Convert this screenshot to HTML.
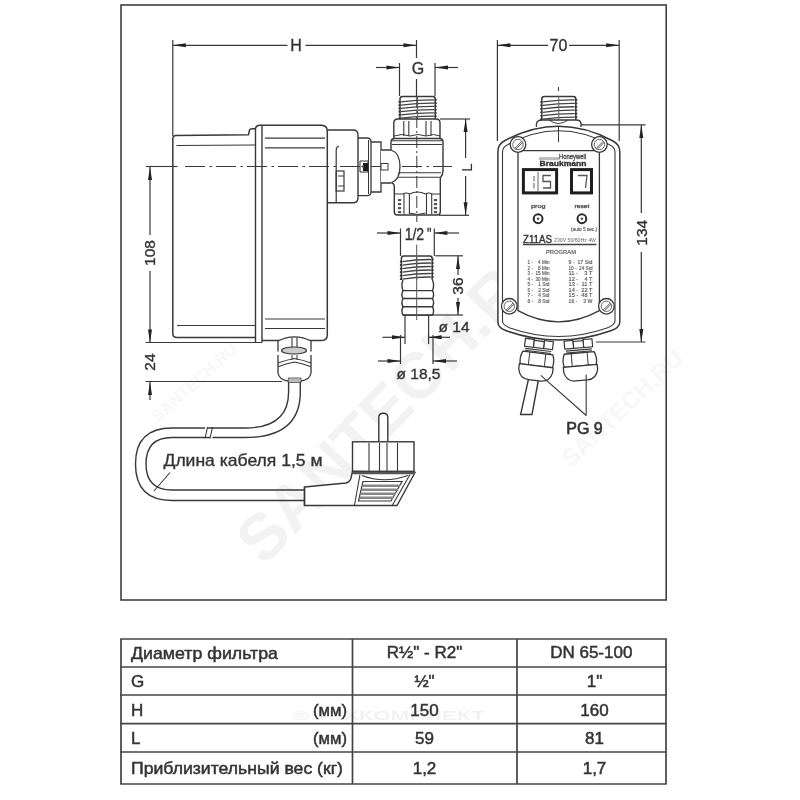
<!DOCTYPE html>
<html><head><meta charset="utf-8"><style>
html,body{margin:0;padding:0;background:#fff;}
svg{display:block;font-family:"Liberation Sans",sans-serif;will-change:transform;}
</style></head><body>
<svg width="800" height="800" viewBox="0 0 800 800">
<rect width="800" height="800" fill="#fff"/>
<g>
<text x="0" y="0" font-size="65" font-weight="bold" fill="#f2f2f2" transform="translate(264,567) rotate(-46)">SANTECH.RU</text>
<text x="0" y="0" font-size="24" font-weight="bold" fill="#f7f7f7" transform="translate(571,468) rotate(-43.5)">SANTECH.RU</text>
<text x="0" y="0" font-size="16.5" font-weight="bold" fill="#f7f7f7" transform="translate(158,423) rotate(-42)">SANTECH.RU</text>
<text x="292" y="719.5" font-size="13" font-weight="bold" fill="#f2f2f2" textLength="193" lengthAdjust="spacingAndGlyphs">© ТЕХКОМПЛЕКТ</text>
<rect x="121" y="5" width="545.2" height="595" fill="none" stroke="#404040" stroke-width="1.6"/>
<line x1="172.8" y1="40" x2="172.8" y2="136" stroke="#383838" stroke-width="1.2" />
<line x1="172.8" y1="45.3" x2="287.5" y2="45.3" stroke="#383838" stroke-width="1.2" />
<line x1="305.5" y1="45.3" x2="416.5" y2="45.3" stroke="#383838" stroke-width="1.2" />
<path d="M172.8 45.3L185.8 43.3L185.8 47.3Z" fill="#222"/>
<path d="M416.5 45.3L403.5 43.3L403.5 47.3Z" fill="#222"/>
<text x="296" y="50.6" font-size="16" text-anchor="middle" fill="#333" stroke="#333" stroke-width="0.35" >H</text>
<line x1="416.5" y1="40" x2="416.5" y2="58" stroke="#383838" stroke-width="1.2" />
<line x1="416.5" y1="79" x2="416.5" y2="96" stroke="#383838" stroke-width="1.2" />
<line x1="399.5" y1="63" x2="399.5" y2="96" stroke="#383838" stroke-width="1.2" />
<line x1="435" y1="63" x2="435" y2="96" stroke="#383838" stroke-width="1.2" />
<line x1="376" y1="67.5" x2="399.5" y2="67.5" stroke="#383838" stroke-width="1.2" />
<path d="M399.5 67.5L386.5 65.5L386.5 69.5Z" fill="#222"/>
<line x1="435" y1="67.5" x2="458" y2="67.5" stroke="#383838" stroke-width="1.2" />
<path d="M435 67.5L448 65.5L448 69.5Z" fill="#222"/>
<text x="418" y="74" font-size="16" text-anchor="middle" fill="#333" stroke="#333" stroke-width="0.35" >G</text>
<line x1="146" y1="166.5" x2="177.5" y2="166.5" stroke="#383838" stroke-width="1.1" />
<line x1="185" y1="166.5" x2="452" y2="166.5" stroke="#383838" stroke-width="1.1" stroke-dasharray="20 4.5 2.5 4"/>
<line x1="150" y1="167" x2="150" y2="235" stroke="#383838" stroke-width="1.2" />
<line x1="150" y1="271" x2="150" y2="342.5" stroke="#383838" stroke-width="1.2" />
<path d="M150 167L148.0 180L152.0 180Z" fill="#222"/>
<path d="M150 342.5L148.0 329.5L152.0 329.5Z" fill="#222"/>
<text x="0" y="0" font-size="15.5" text-anchor="middle" fill="#333" stroke="#333" stroke-width="0.35" transform="translate(154.8,253) rotate(-90)">108</text>
<line x1="145.5" y1="342.5" x2="262" y2="342.5" stroke="#383838" stroke-width="1.2" />
<text x="0" y="0" font-size="15.5" text-anchor="middle" fill="#333" stroke="#333" stroke-width="0.35" transform="translate(154.8,362) rotate(-90)">24</text>
<line x1="145.5" y1="381.5" x2="282" y2="381.5" stroke="#383838" stroke-width="1.2" />
<line x1="150" y1="382" x2="150" y2="400" stroke="#383838" stroke-width="1.2" />
<path d="M150 382L148.0 395L152.0 395Z" fill="#222"/>
<path d="M172.8 139Q172.8 135.5 176 135.5L248.5 134.8L249.5 130Q250 128.8 252 128.8L255.3 128.8Q256 125.5 259 125.2L262 125.2" stroke="#383838" stroke-width="1.5" fill="none" />
<path d="M172.8 139L172.8 333.5Q172.8 337.5 177 337.5L256 337.5" stroke="#383838" stroke-width="1.5" fill="none" />
<line x1="176.5" y1="145.5" x2="255" y2="145" stroke="#383838" stroke-width="1.2" />
<line x1="177" y1="325.5" x2="255" y2="325.5" stroke="#383838" stroke-width="1.2" />
<line x1="255.5" y1="128.8" x2="255.5" y2="342.5" stroke="#383838" stroke-width="1.4" />
<line x1="262" y1="125.2" x2="262" y2="342.5" stroke="#383838" stroke-width="1.4" />
<path d="M262 125.2L321.5 125.2Q327.3 125.5 327.3 131L327.3 335Q327.3 340.5 321.5 340.5L262 340.5" stroke="#383838" stroke-width="1.5" fill="none" />
<line x1="265" y1="138.2" x2="325" y2="138.2" stroke="#383838" stroke-width="1.2" />
<line x1="265" y1="147.8" x2="325" y2="147.8" stroke="#383838" stroke-width="1.2" />
<line x1="265" y1="319" x2="325" y2="319" stroke="#383838" stroke-width="1.2" />
<line x1="265" y1="328.5" x2="325" y2="328.5" stroke="#383838" stroke-width="1.2" />
<path d="M327.3 130L353 130Q358 130 358 135L358 198Q358 202.8 353 202.8L327.3 202.8" stroke="#383838" stroke-width="1.4" fill="none" />
<path d="M336.2 202.8L336.2 150Q336.2 147 339 146" stroke="#383838" stroke-width="1.2" fill="none" />
<rect x="336.2" y="171" width="7.8" height="20" fill="none" stroke="#383838" stroke-width="1.2"/>
<line x1="338" y1="176" x2="344" y2="176" stroke="#383838" stroke-width="1" />
<line x1="338" y1="186" x2="344" y2="186" stroke="#383838" stroke-width="1" />
<path d="M358 138L367 138Q371 138 371 142L371 192Q371 195.6 367 195.6L358 195.6" stroke="#383838" stroke-width="1.3" fill="none" />
<line x1="368.5" y1="140" x2="368.5" y2="194" stroke="#383838" stroke-width="1.0" />
<path d="M371 142L381 142L381 192L371 192" stroke="#383838" stroke-width="1.3" fill="none" />
<path d="M360 161L368 161L368 172L360 172Z" fill="#fff" stroke="#333" stroke-width="1"/><path d="M363 163L368 163L368 171L363 171Z" fill="#1a1a1a"/><path d="M361 166.5L364 164.5L364 168.5Z" fill="#444"/>
<path d="M381 150L391 150Q400 153 400 166.5Q400 180 391 183L381 183" stroke="#383838" stroke-width="1.3" fill="#fff" />
<rect x="381" y="163.5" width="7" height="6.5" fill="#fff" stroke="#383838" stroke-width="1"/>
<path d="M400 119L400 98.9Q400 96.4 402.5 96.4L432.7 96.4Q435.2 96.4 435.2 98.9L435.2 119" stroke="#383838" stroke-width="1.5" fill="none" />
<path d="M401 101.85000000000001Q417.6 99.72666666666667 434.2 99.89" stroke="#444" stroke-width="1.3" fill="none" />
<path d="M398.5 101.85000000000001L400.5 101.85000000000001M434.7 99.89L436.7 99.89" stroke="#333" stroke-width="1.6" fill="none" />
<path d="M401 105.11666666666667Q417.6 102.99333333333334 434.2 103.15666666666667" stroke="#444" stroke-width="1.3" fill="none" />
<path d="M398.5 105.11666666666667L400.5 105.11666666666667M434.7 103.15666666666667L436.7 103.15666666666667" stroke="#333" stroke-width="1.6" fill="none" />
<path d="M401 108.38333333333334Q417.6 106.26 434.2 106.42333333333333" stroke="#444" stroke-width="1.3" fill="none" />
<path d="M398.5 108.38333333333334L400.5 108.38333333333334M434.7 106.42333333333333L436.7 106.42333333333333" stroke="#333" stroke-width="1.6" fill="none" />
<path d="M401 111.65Q417.6 109.52666666666667 434.2 109.69" stroke="#444" stroke-width="1.3" fill="none" />
<path d="M398.5 111.65L400.5 111.65M434.7 109.69L436.7 109.69" stroke="#333" stroke-width="1.6" fill="none" />
<path d="M401 114.91666666666667Q417.6 112.79333333333334 434.2 112.95666666666666" stroke="#444" stroke-width="1.3" fill="none" />
<path d="M398.5 114.91666666666667L400.5 114.91666666666667M434.7 112.95666666666666L436.7 112.95666666666666" stroke="#333" stroke-width="1.6" fill="none" />
<path d="M401 118.18333333333334Q417.6 116.06 434.2 116.22333333333333" stroke="#444" stroke-width="1.3" fill="none" />
<path d="M398.5 118.18333333333334L400.5 118.18333333333334M434.7 116.22333333333333L436.7 116.22333333333333" stroke="#333" stroke-width="1.6" fill="none" />
<line x1="417.6" y1="96.4" x2="417.6" y2="119" stroke="#666" stroke-width="1.0" />
<path d="M393.8 138.8L393.8 123Q393.8 119 398 119L436 119Q440 119 440 123L440 138.8" stroke="#383838" stroke-width="1.4" fill="none" />
<line x1="403.8" y1="121" x2="403.8" y2="136" stroke="#383838" stroke-width="1.1" />
<line x1="408.8" y1="121" x2="408.8" y2="136" stroke="#383838" stroke-width="1.1" />
<line x1="426" y1="121" x2="426" y2="136" stroke="#383838" stroke-width="1.1" />
<line x1="431" y1="121" x2="431" y2="136" stroke="#383838" stroke-width="1.1" />
<path d="M394 136Q402 133 410 136Q418 133 426 136Q434 133 440 136" stroke="#383838" stroke-width="1.0" fill="none" />
<path d="M391 150L391 142Q391 138.5 395 138.5L439 138.5Q443 138.5 443 142L443 171Q443 175 440.3 178L440.3 212Q440.3 215 437 215L397.5 215Q394.3 215 394.3 212L394.3 186Q394.3 184 392 183" stroke="#383838" stroke-width="1.4" fill="none" />
<line x1="392" y1="140.8" x2="442" y2="140.8" stroke="#383838" stroke-width="1.1" />
<line x1="392" y1="144.5" x2="442" y2="144.5" stroke="#383838" stroke-width="1.1" />
<line x1="398.4" y1="172.7" x2="441" y2="172.7" stroke="#383838" stroke-width="1.1" />
<line x1="398.4" y1="177.2" x2="440.3" y2="177.2" stroke="#383838" stroke-width="1.1" />
<path d="M394.3 194L403 194Q406 192 409.5 194M425.5 194Q428.5 192 432 194L440.3 194" stroke="#383838" stroke-width="1.2" fill="none" />
<path d="M409.5 194Q417.5 190 425.5 194" stroke="#383838" stroke-width="1.2" fill="none" />
<path d="M409.5 213Q417.5 216 425.5 213" stroke="#383838" stroke-width="1.0" fill="none" />
<line x1="404" y1="194" x2="404" y2="214" stroke="#383838" stroke-width="1.1" />
<line x1="409.4" y1="194" x2="409.4" y2="214" stroke="#383838" stroke-width="1.1" />
<line x1="426.5" y1="194" x2="426.5" y2="214" stroke="#383838" stroke-width="1.1" />
<line x1="431.7" y1="194" x2="431.7" y2="214" stroke="#383838" stroke-width="1.1" />
<rect x="397.9" y="199" width="3.2" height="2.2" fill="#555"/>
<rect x="397.9" y="203" width="3.2" height="2.2" fill="#555"/>
<rect x="397.9" y="207" width="3.2" height="2.2" fill="#555"/>
<rect x="397.9" y="211" width="3.2" height="2.2" fill="#555"/>
<rect x="433.9" y="199" width="3.2" height="2.2" fill="#555"/>
<rect x="433.9" y="203" width="3.2" height="2.2" fill="#555"/>
<rect x="433.9" y="207" width="3.2" height="2.2" fill="#555"/>
<rect x="433.9" y="211" width="3.2" height="2.2" fill="#555"/>
<line x1="416.8" y1="96" x2="416.8" y2="222" stroke="#383838" stroke-width="1.0" stroke-dasharray="12 3 2 3"/>
<line x1="440" y1="119" x2="470" y2="119" stroke="#383838" stroke-width="1.2" />
<line x1="439" y1="215.3" x2="469" y2="215.3" stroke="#383838" stroke-width="1.2" />
<line x1="465.6" y1="119" x2="465.6" y2="158" stroke="#383838" stroke-width="1.2" />
<line x1="465.6" y1="176" x2="465.6" y2="215.3" stroke="#383838" stroke-width="1.2" />
<path d="M465.6 119L463.6 132L467.6 132Z" fill="#222"/>
<path d="M465.6 215.3L463.6 202.3L467.6 202.3Z" fill="#222"/>
<text x="0" y="0" font-size="15" text-anchor="middle" fill="#333" stroke="#333" stroke-width="0.1" transform="translate(471.5,167.5) rotate(-90)">L</text>
<line x1="400.5" y1="228.5" x2="400.5" y2="256" stroke="#383838" stroke-width="1.2" />
<line x1="434.3" y1="228.5" x2="434.3" y2="256" stroke="#383838" stroke-width="1.2" />
<line x1="377" y1="233" x2="400.5" y2="233" stroke="#383838" stroke-width="1.2" />
<path d="M400.5 233L387.5 231.0L387.5 235.0Z" fill="#222"/>
<line x1="434.3" y1="233" x2="459" y2="233" stroke="#383838" stroke-width="1.2" />
<path d="M434.3 233L447.3 231.0L447.3 235.0Z" fill="#222"/>
<text x="414.4" y="239.6" font-size="17" text-anchor="middle" fill="#333" stroke="#333" stroke-width="0.35" textLength="19.5" lengthAdjust="spacingAndGlyphs" >1/2</text>
<text x="429.2" y="239.6" font-size="17" text-anchor="middle" fill="#333" stroke="#333" stroke-width="0.35" textLength="4.5" lengthAdjust="spacingAndGlyphs" >"</text>
<path d="M401.4 280L401.4 258.5Q401.4 256 403.9 256L429.7 256Q432.2 256 432.2 258.5L432.2 280" stroke="#383838" stroke-width="1.5" fill="none" />
<path d="M402.4 261.625Q416.79999999999995 259.35 431.2 259.525" stroke="#444" stroke-width="1.3" fill="none" />
<path d="M399.9 261.625L401.9 261.625M431.7 259.525L433.7 259.525" stroke="#333" stroke-width="1.6" fill="none" />
<path d="M402.4 265.125Q416.79999999999995 262.85 431.2 263.025" stroke="#444" stroke-width="1.3" fill="none" />
<path d="M399.9 265.125L401.9 265.125M431.7 263.025L433.7 263.025" stroke="#333" stroke-width="1.6" fill="none" />
<path d="M402.4 268.625Q416.79999999999995 266.35 431.2 266.525" stroke="#444" stroke-width="1.3" fill="none" />
<path d="M399.9 268.625L401.9 268.625M431.7 266.525L433.7 266.525" stroke="#333" stroke-width="1.6" fill="none" />
<path d="M402.4 272.125Q416.79999999999995 269.85 431.2 270.025" stroke="#444" stroke-width="1.3" fill="none" />
<path d="M399.9 272.125L401.9 272.125M431.7 270.025L433.7 270.025" stroke="#333" stroke-width="1.6" fill="none" />
<path d="M402.4 275.625Q416.79999999999995 273.35 431.2 273.525" stroke="#444" stroke-width="1.3" fill="none" />
<path d="M399.9 275.625L401.9 275.625M431.7 273.525L433.7 273.525" stroke="#333" stroke-width="1.6" fill="none" />
<path d="M402.4 279.125Q416.79999999999995 276.85 431.2 277.025" stroke="#444" stroke-width="1.3" fill="none" />
<path d="M399.9 279.125L401.9 279.125M431.7 277.025L433.7 277.025" stroke="#333" stroke-width="1.6" fill="none" />
<line x1="416.79999999999995" y1="256" x2="416.79999999999995" y2="280" stroke="#666" stroke-width="1.0" />
<path d="M403 280Q400.8 285.3 403 290.6L432.5 290.6Q434.7 285.3 432.5 280" stroke="#383838" stroke-width="1.4" fill="none" />
<path d="M403 290.6Q400.8 294.55 403 298.5L432.5 298.5Q434.7 294.55 432.5 290.6" stroke="#383838" stroke-width="1.4" fill="none" />
<path d="M403 298.5Q400.8 302.65 403 306.8L432.5 306.8Q434.7 302.65 432.5 298.5" stroke="#383838" stroke-width="1.4" fill="none" />
<path d="M403 306.8Q400.8 310.95000000000005 403 315.1L432.5 315.1Q434.7 310.95000000000005 432.5 306.8" stroke="#383838" stroke-width="1.4" fill="none" />
<line x1="403" y1="315.1" x2="432.5" y2="315.1" stroke="#383838" stroke-width="1.4" />
<line x1="416.7" y1="244.5" x2="416.7" y2="320" stroke="#555" stroke-width="1.0" />
<line x1="435.4" y1="255.8" x2="463" y2="255.8" stroke="#383838" stroke-width="1.2" />
<line x1="433" y1="315" x2="463" y2="315" stroke="#383838" stroke-width="1.2" />
<line x1="458" y1="256" x2="458" y2="275" stroke="#383838" stroke-width="1.2" />
<line x1="458" y1="298" x2="458" y2="315" stroke="#383838" stroke-width="1.2" />
<path d="M458 256L456.0 269L460.0 269Z" fill="#222"/>
<path d="M458 315L456.0 302L460.0 302Z" fill="#222"/>
<text x="0" y="0" font-size="15.5" text-anchor="middle" fill="#333" stroke="#333" stroke-width="0.35" transform="translate(462.8,286) rotate(-90)">36</text>
<line x1="405" y1="315" x2="405" y2="344" stroke="#383838" stroke-width="1.2" />
<line x1="428.6" y1="315" x2="428.6" y2="344" stroke="#383838" stroke-width="1.2" />
<line x1="382.5" y1="337.3" x2="405" y2="337.3" stroke="#383838" stroke-width="1.2" />
<path d="M405 337.3L392 335.3L392 339.3Z" fill="#222"/>
<line x1="428.6" y1="337.3" x2="450" y2="337.3" stroke="#383838" stroke-width="1.2" />
<path d="M428.6 337.3L441.6 335.3L441.6 339.3Z" fill="#222"/>
<text x="454" y="331.5" font-size="15.5" text-anchor="middle" fill="#333" stroke="#333" stroke-width="0.35" >ø 14</text>
<line x1="400.5" y1="335" x2="400.5" y2="364" stroke="#383838" stroke-width="1.2" />
<line x1="433" y1="335" x2="433" y2="364" stroke="#383838" stroke-width="1.2" />
<line x1="378" y1="361" x2="400.5" y2="361" stroke="#383838" stroke-width="1.2" />
<path d="M400.5 361L387.5 359.0L387.5 363.0Z" fill="#222"/>
<line x1="433" y1="361" x2="457" y2="361" stroke="#383838" stroke-width="1.2" />
<path d="M433 361L446 359.0L446 363.0Z" fill="#222"/>
<text x="418.5" y="379" font-size="15.5" text-anchor="middle" fill="#333" stroke="#333" stroke-width="0.35" >ø 18,5</text>
<path d="M278 351.4L278 341Q286 336.8 294.5 336.8Q303 336.8 311 341L311 351.4" stroke="#383838" stroke-width="1.3" fill="#fff" />
<line x1="292" y1="337.5" x2="292" y2="348" stroke="#383838" stroke-width="1.1" />
<line x1="297" y1="337.5" x2="297" y2="348" stroke="#383838" stroke-width="1.1" />
<ellipse cx="294" cy="350.5" rx="12.5" ry="3.5" fill="#ccc" stroke="#383838" stroke-width="1.2"/>
<path d="M278 366.7L278 355M311 355L311 366.7" stroke="#383838" stroke-width="1.3" fill="none" />
<path d="M278 363Q286 360 294.5 358.5Q303 360 311 363" stroke="#383838" stroke-width="1.1" fill="none" />
<path d="M278 366.7Q286 363.5 294.5 362Q303 363.5 311 366.7" stroke="#383838" stroke-width="1.1" fill="none" />
<line x1="292" y1="355" x2="292" y2="360" stroke="#383838" stroke-width="1.0" />
<line x1="297" y1="355" x2="297" y2="360" stroke="#383838" stroke-width="1.0" />
<path d="M278 366.7L278 373Q279 379.5 288 381L301 381Q310 379.5 311 373L311 366.7" stroke="#383838" stroke-width="1.3" fill="none" />
<rect x="288.3" y="378" width="12.7" height="4.5" fill="#bbb" stroke="#555" stroke-width="0.8"/>
<path d="M288.6 382L288.6 392Q288.6 428 245 428L207.5 428" stroke="#383838" stroke-width="1.4" fill="none" />
<path d="M300.3 382L300.3 392Q300.3 437.5 245 437.5L212.5 437.5" stroke="#383838" stroke-width="1.4" fill="none" />
<path d="M205 428L172 428Q135.5 428 135.5 464Q135.5 500.5 172 500.5L305 500.5" stroke="#383838" stroke-width="1.4" fill="none" />
<path d="M210 437.5L172 437.5Q146 437.5 146 464Q146 490 172 490L305 490" stroke="#383838" stroke-width="1.4" fill="none" />
<line x1="207.5" y1="427" x2="205" y2="438.5" stroke="#383838" stroke-width="1.1" />
<line x1="212.5" y1="427" x2="210" y2="438.5" stroke="#383838" stroke-width="1.1" />
<text x="163.5" y="466" font-size="17" text-anchor="start" fill="#333" stroke="#333" stroke-width="0.35" textLength="159" lengthAdjust="spacingAndGlyphs" >Длина кабеля 1,5 м</text>
<line x1="170" y1="472.5" x2="154" y2="491" stroke="#383838" stroke-width="1.1" />
<path d="M378.8 441.8L378.8 417.5Q378.8 413.2 383.3 413.2Q387.8 413.2 387.8 417.5L387.8 441.8" stroke="#383838" stroke-width="1.4" fill="#fff" />
<rect x="352.5" y="441.8" width="61.5" height="29.5" fill="#fff" stroke="#383838" stroke-width="1.4"/>
<line x1="369" y1="443" x2="369" y2="471" stroke="#383838" stroke-width="1.1" />
<line x1="379.5" y1="443" x2="379.5" y2="471" stroke="#383838" stroke-width="1.1" />
<line x1="387" y1="443" x2="387" y2="471" stroke="#383838" stroke-width="1.1" />
<line x1="397.5" y1="443" x2="397.5" y2="471" stroke="#383838" stroke-width="1.1" />
<path d="M304.5 487L346 483Q350 482 351 478L352.5 471.5L415 472.5L397 505.5L304.5 505.5Z" stroke="#383838" stroke-width="1.4" fill="#fff" />
<line x1="352.5" y1="473" x2="415" y2="473" stroke="#555" stroke-width="2.6" />
<line x1="360" y1="474.5" x2="354.5" y2="505" stroke="#383838" stroke-width="1.1" />
<line x1="410" y1="474.5" x2="392.5" y2="505" stroke="#383838" stroke-width="1.1" />
<path d="M362 475.5Q384 484 408 475.5" stroke="#383838" stroke-width="1.1" fill="none" />
<path d="M363 481.5L402 481.5L391 501L358.5 501Z" stroke="#383838" stroke-width="1.2" fill="none" />
<path d="M362.5 484.5L400.5 484.5L399.5 487.1L362.0 487.1Z" stroke="#383838" stroke-width="0" fill="#888" />
<path d="M361.6 488.5L398.3 488.5L397.3 491.1L361.1 491.1Z" stroke="#383838" stroke-width="0" fill="#888" />
<path d="M360.7 492.5L396.1 492.5L395.1 495.1L360.2 495.1Z" stroke="#383838" stroke-width="0" fill="#888" />
<path d="M359.8 496.5L393.9 496.5L392.9 499.1L359.3 499.1Z" stroke="#383838" stroke-width="0" fill="#888" />
<line x1="304.5" y1="487" x2="304.5" y2="505.5" stroke="#383838" stroke-width="1.4" />
<line x1="497.4" y1="40" x2="497.4" y2="141" stroke="#383838" stroke-width="1.2" />
<line x1="619.2" y1="40" x2="619.2" y2="141" stroke="#383838" stroke-width="1.2" />
<line x1="497.4" y1="45.3" x2="548" y2="45.3" stroke="#383838" stroke-width="1.2" />
<line x1="569" y1="45.3" x2="619.2" y2="45.3" stroke="#383838" stroke-width="1.2" />
<path d="M497.4 45.3L510.4 43.3L510.4 47.3Z" fill="#222"/>
<path d="M619.2 45.3L606.2 43.3L606.2 47.3Z" fill="#222"/>
<text x="558.5" y="51.2" font-size="16" text-anchor="middle" fill="#333" stroke="#333" stroke-width="0.35" >70</text>
<path d="M541.8 120L541.8 98.9Q541.8 96.4 544.3 96.4L573.3 96.4Q575.8 96.4 575.8 98.9L575.8 120" stroke="#383838" stroke-width="1.5" fill="none" />
<path d="M542.8 101.97500000000001Q558.8 99.74333333333334 574.8 99.915" stroke="#444" stroke-width="1.3" fill="none" />
<path d="M540.3 101.97500000000001L542.3 101.97500000000001M575.3 99.915L577.3 99.915" stroke="#333" stroke-width="1.6" fill="none" />
<path d="M542.8 105.40833333333335Q558.8 103.17666666666668 574.8 103.34833333333334" stroke="#444" stroke-width="1.3" fill="none" />
<path d="M540.3 105.40833333333335L542.3 105.40833333333335M575.3 103.34833333333334L577.3 103.34833333333334" stroke="#333" stroke-width="1.6" fill="none" />
<path d="M542.8 108.84166666666667Q558.8 106.61 574.8 106.78166666666667" stroke="#444" stroke-width="1.3" fill="none" />
<path d="M540.3 108.84166666666667L542.3 108.84166666666667M575.3 106.78166666666667L577.3 106.78166666666667" stroke="#333" stroke-width="1.6" fill="none" />
<path d="M542.8 112.275Q558.8 110.04333333333334 574.8 110.215" stroke="#444" stroke-width="1.3" fill="none" />
<path d="M540.3 112.275L542.3 112.275M575.3 110.215L577.3 110.215" stroke="#333" stroke-width="1.6" fill="none" />
<path d="M542.8 115.70833333333334Q558.8 113.47666666666667 574.8 113.64833333333334" stroke="#444" stroke-width="1.3" fill="none" />
<path d="M540.3 115.70833333333334L542.3 115.70833333333334M575.3 113.64833333333334L577.3 113.64833333333334" stroke="#333" stroke-width="1.6" fill="none" />
<path d="M542.8 119.14166666666667Q558.8 116.91 574.8 117.08166666666666" stroke="#444" stroke-width="1.3" fill="none" />
<path d="M540.3 119.14166666666667L542.3 119.14166666666667M575.3 117.08166666666666L577.3 117.08166666666666" stroke="#333" stroke-width="1.6" fill="none" />
<line x1="558.8" y1="96.4" x2="558.8" y2="120" stroke="#666" stroke-width="1.0" />
<line x1="558.5" y1="87" x2="558.5" y2="91" stroke="#383838" stroke-width="1.0" />
<path d="M536.4 127L536.4 124Q537 120 542 120L576 120Q581 120 581 124L581 127" stroke="#383838" stroke-width="1.3" fill="none" />
<path d="M549 120Q558.5 127 568 120" stroke="#383838" stroke-width="1.0" fill="none" />
<path d="M497.9 322L497.9 152Q497.9 144 505 140.5Q558.5 112 612 140.5Q619.8 144 619.8 152L619.8 322Q619.8 328 610 331Q558.5 349 507 331Q497.9 328 497.9 322Z" stroke="#383838" stroke-width="1.5" fill="#fff" />
<path d="M502.5 321L502.5 152Q502.5 147 508 144.5Q558.5 117 609 144.5Q615 147 615 152L615 321Q615 325 607 328Q558.5 345 510 328Q502.5 325 502.5 321Z" stroke="#383838" stroke-width="1.1" fill="none" />
<line x1="558.5" y1="126" x2="558.5" y2="142" stroke="#383838" stroke-width="1.0" />
<path d="M518 150.6L599.4 150.6L599.4 310.6Q558.5 333 518 310.6Z" stroke="#383838" stroke-width="1.3" fill="none" />
<circle cx="518" cy="144.5" r="7.8" fill="#fff" stroke="#383838" stroke-width="1.3"/>
<circle cx="518" cy="144.5" r="5.2" fill="none" stroke="#666" stroke-width="1"/>
<line x1="514.8" y1="148.3" x2="521.8" y2="141.3" stroke="#555" stroke-width="1.0" />
<line x1="515.8" y1="149.3" x2="522.8" y2="142.3" stroke="#555" stroke-width="1.0" />
<circle cx="599.4" cy="144.5" r="7.8" fill="#fff" stroke="#383838" stroke-width="1.3"/>
<circle cx="599.4" cy="144.5" r="5.2" fill="none" stroke="#666" stroke-width="1"/>
<line x1="596.1999999999999" y1="148.3" x2="603.1999999999999" y2="141.3" stroke="#555" stroke-width="1.0" />
<line x1="597.1999999999999" y1="149.3" x2="604.1999999999999" y2="142.3" stroke="#555" stroke-width="1.0" />
<circle cx="509.3" cy="306.3" r="7.8" fill="#fff" stroke="#383838" stroke-width="1.3"/>
<circle cx="509.3" cy="306.3" r="5.2" fill="none" stroke="#666" stroke-width="1"/>
<line x1="506.1" y1="310.1" x2="513.1" y2="303.1" stroke="#555" stroke-width="1.0" />
<line x1="507.1" y1="311.1" x2="514.1" y2="304.1" stroke="#555" stroke-width="1.0" />
<circle cx="606.4" cy="306.3" r="7.8" fill="#fff" stroke="#383838" stroke-width="1.3"/>
<circle cx="606.4" cy="306.3" r="5.2" fill="none" stroke="#666" stroke-width="1"/>
<line x1="603.1999999999999" y1="310.1" x2="610.1999999999999" y2="303.1" stroke="#555" stroke-width="1.0" />
<line x1="604.1999999999999" y1="311.1" x2="611.1999999999999" y2="304.1" stroke="#555" stroke-width="1.0" />
<text x="586" y="158.8" font-size="6.5" text-anchor="end" fill="#444" stroke="#444" stroke-width="0.3" textLength="27" lengthAdjust="spacingAndGlyphs">Honeywell</text>
<line x1="539" y1="158.7" x2="559" y2="158.7" stroke="#bbb" stroke-width="3.2" />
<text x="586.5" y="166.3" font-size="7.8" font-weight="bold" text-anchor="end" fill="#2a2a2a" stroke="#2a2a2a" stroke-width="0.3" textLength="47" lengthAdjust="spacingAndGlyphs">Braukmann</text>
<rect x="523.4" y="169.6" width="33.2" height="23.3" fill="none" stroke="#1e1e1e" stroke-width="3"/>
<line x1="538" y1="172" x2="538" y2="191.5" stroke="#666" stroke-width="1.0" />
<rect x="571.5" y="169.6" width="20" height="23.3" fill="none" stroke="#1e1e1e" stroke-width="3"/>
<path d="M534 176L534 181.5M534 183L534 188.5" stroke="#777" stroke-width="1.2" fill="none" />
<path d="M551 175.5L543 175.5L543 181.5L550.5 181.5L550.5 188L543 188" stroke="#555" stroke-width="1.3" fill="none" />
<path d="M578 175.5L587 175.5L585.5 188" stroke="#555" stroke-width="1.3" fill="none" />
<text x="538.3" y="207.6" font-size="5.8" text-anchor="middle" fill="#444" stroke="#444" stroke-width="0.25" textLength="14.5" lengthAdjust="spacingAndGlyphs">prog</text>
<text x="581.9" y="207.6" font-size="5.8" text-anchor="middle" fill="#444" stroke="#444" stroke-width="0.25" textLength="15" lengthAdjust="spacingAndGlyphs">reset</text>
<circle cx="538.1" cy="218.75" r="4.4" fill="none" stroke="#2a2a2a" stroke-width="2"/>
<circle cx="538.1" cy="218.75" r="1.3" fill="#555"/>
<circle cx="581.9" cy="218.75" r="4.4" fill="none" stroke="#2a2a2a" stroke-width="2"/>
<circle cx="581.9" cy="218.75" r="1.3" fill="#555"/>
<text x="597" y="231" font-size="4.8" text-anchor="end" fill="#555" stroke="#555" stroke-width="0.15" textLength="26" lengthAdjust="spacingAndGlyphs">(auto 5 sec.)</text>
<text x="523" y="242.5" font-size="10" fill="#333" stroke="#333" stroke-width="0.4" textLength="29" lengthAdjust="spacingAndGlyphs">Z11AS</text>
<text x="554" y="242" font-size="4.5" fill="#666" textLength="42" lengthAdjust="spacingAndGlyphs">230V 50/60Hz 4W</text>
<line x1="523" y1="244.5" x2="596.5" y2="244.5" stroke="#444" stroke-width="1.4" />
<text x="561" y="254" font-size="5.5" text-anchor="middle" fill="#555" stroke="#555" stroke-width="0.15" textLength="30" lengthAdjust="spacingAndGlyphs">PROGRAM</text>
<text x="527.5" y="264.0" font-size="4.5" fill="#555" stroke="#555" stroke-width="0.12" textLength="22" lengthAdjust="spacingAndGlyphs" xml:space="preserve">1 -    4 Min</text>
<text x="568.5" y="264.0" font-size="4.5" fill="#555" stroke="#555" stroke-width="0.12" textLength="24" lengthAdjust="spacingAndGlyphs" xml:space="preserve">9 -  17 Std</text>
<text x="527.5" y="269.5" font-size="4.5" fill="#555" stroke="#555" stroke-width="0.12" textLength="22" lengthAdjust="spacingAndGlyphs" xml:space="preserve">2 -    8 Min</text>
<text x="568.5" y="269.5" font-size="4.5" fill="#555" stroke="#555" stroke-width="0.12" textLength="24" lengthAdjust="spacingAndGlyphs" xml:space="preserve">10 -  24 Std</text>
<text x="527.5" y="275.0" font-size="4.5" fill="#555" stroke="#555" stroke-width="0.12" textLength="22" lengthAdjust="spacingAndGlyphs" xml:space="preserve">3 -  15 Min</text>
<text x="568.5" y="275.0" font-size="4.5" fill="#555" stroke="#555" stroke-width="0.12" textLength="24" lengthAdjust="spacingAndGlyphs" xml:space="preserve">11 -    3 T</text>
<text x="527.5" y="280.5" font-size="4.5" fill="#555" stroke="#555" stroke-width="0.12" textLength="22" lengthAdjust="spacingAndGlyphs" xml:space="preserve">4 -  30 Min</text>
<text x="568.5" y="280.5" font-size="4.5" fill="#555" stroke="#555" stroke-width="0.12" textLength="24" lengthAdjust="spacingAndGlyphs" xml:space="preserve">12 -    4 T</text>
<text x="527.5" y="286.0" font-size="4.5" fill="#555" stroke="#555" stroke-width="0.12" textLength="22" lengthAdjust="spacingAndGlyphs" xml:space="preserve">5 -    1 Std</text>
<text x="568.5" y="286.0" font-size="4.5" fill="#555" stroke="#555" stroke-width="0.12" textLength="24" lengthAdjust="spacingAndGlyphs" xml:space="preserve">13 -  11 T</text>
<text x="527.5" y="291.5" font-size="4.5" fill="#555" stroke="#555" stroke-width="0.12" textLength="22" lengthAdjust="spacingAndGlyphs" xml:space="preserve">6 -    2 Std</text>
<text x="568.5" y="291.5" font-size="4.5" fill="#555" stroke="#555" stroke-width="0.12" textLength="24" lengthAdjust="spacingAndGlyphs" xml:space="preserve">14 -  22 T</text>
<text x="527.5" y="297.0" font-size="4.5" fill="#555" stroke="#555" stroke-width="0.12" textLength="22" lengthAdjust="spacingAndGlyphs" xml:space="preserve">7 -    4 Std</text>
<text x="568.5" y="297.0" font-size="4.5" fill="#555" stroke="#555" stroke-width="0.12" textLength="24" lengthAdjust="spacingAndGlyphs" xml:space="preserve">15 -  48 T</text>
<text x="527.5" y="302.5" font-size="4.5" fill="#555" stroke="#555" stroke-width="0.12" textLength="22" lengthAdjust="spacingAndGlyphs" xml:space="preserve">8 -    8 Std</text>
<text x="568.5" y="302.5" font-size="4.5" fill="#555" stroke="#555" stroke-width="0.12" textLength="24" lengthAdjust="spacingAndGlyphs" xml:space="preserve">16 -    3 W</text>
<line x1="581" y1="124.8" x2="645.5" y2="124.8" stroke="#383838" stroke-width="1.2" />
<line x1="596" y1="342" x2="645.5" y2="342" stroke="#383838" stroke-width="1.2" />
<line x1="641.3" y1="125" x2="641.3" y2="213" stroke="#383838" stroke-width="1.2" />
<line x1="641.3" y1="252" x2="641.3" y2="342" stroke="#383838" stroke-width="1.2" />
<path d="M641.3 125L639.3 138L643.3 138Z" fill="#222"/>
<path d="M641.3 342L639.3 329L643.3 329Z" fill="#222"/>
<text x="0" y="0" font-size="15.5" text-anchor="middle" fill="#333" stroke="#333" stroke-width="0.35" transform="translate(647.3,232.7) rotate(-90)">134</text>
<path d="M528.5 379L520.6 414.5L532 414.5L538.6 379" stroke="#383838" stroke-width="1.4" fill="#fff" />
<g transform="rotate(7 539.45 340)">
<path d="M525.4 340L534.4 340L534.4 348L525.4 348Z" stroke="#383838" stroke-width="1.2" fill="#fff" />
<path d="M544.5 340L553.5 340L553.5 348L544.5 348Z" stroke="#383838" stroke-width="1.2" fill="#fff" />
<path d="M534.4 341L544.5 341L544.5 348L534.4 348Z" stroke="#383838" stroke-width="1.2" fill="#fff" />
<line x1="526.4" y1="350" x2="552.5" y2="350" stroke="#383838" stroke-width="1.1" />
<line x1="526.4" y1="352" x2="552.5" y2="352" stroke="#383838" stroke-width="1.1" />
<path d="M524.4 353L554.5 353Q557.5 359.5 555.5 366L523.4 366Q521.4 359.5 524.4 353Z" stroke="#383838" stroke-width="1.3" fill="#fff" />
<line x1="531.4" y1="353" x2="531.4" y2="366" stroke="#383838" stroke-width="1.0" />
<line x1="547.5" y1="353" x2="547.5" y2="366" stroke="#383838" stroke-width="1.0" />
<path d="M522.4 366L556.5 366L556.5 371Q554.5 380.6 545.45 380.6L533.45 380.6Q524.4 380.6 522.4 371Z" stroke="#383838" stroke-width="1.3" fill="#fff" />
</g>
<g transform="rotate(-5 578.0 340)">
<path d="M564 340L573 340L573 348L564 348Z" stroke="#383838" stroke-width="1.2" fill="#fff" />
<path d="M583 340L592 340L592 348L583 348Z" stroke="#383838" stroke-width="1.2" fill="#fff" />
<path d="M573 341L583 341L583 348L573 348Z" stroke="#383838" stroke-width="1.2" fill="#fff" />
<line x1="565" y1="350" x2="591" y2="350" stroke="#383838" stroke-width="1.1" />
<line x1="565" y1="352" x2="591" y2="352" stroke="#383838" stroke-width="1.1" />
<path d="M563 353L593 353Q596 359.5 594 366L562 366Q560 359.5 563 353Z" stroke="#383838" stroke-width="1.3" fill="#fff" />
<line x1="570" y1="353" x2="570" y2="366" stroke="#383838" stroke-width="1.0" />
<line x1="586" y1="353" x2="586" y2="366" stroke="#383838" stroke-width="1.0" />
<path d="M561 366L595 366L595 371Q593 380.6 584.0 380.6L572.0 380.6Q563 380.6 561 371Z" stroke="#383838" stroke-width="1.3" fill="#fff" />
</g>
<line x1="540.8" y1="375.4" x2="586.2" y2="415.5" stroke="#383838" stroke-width="1.1" />
<line x1="586.2" y1="374.5" x2="586.2" y2="415.5" stroke="#383838" stroke-width="1.1" />
<text x="584.5" y="433.8" font-size="16" text-anchor="middle" fill="#333" stroke="#333" stroke-width="0.6" >PG 9</text>
<line x1="120.2" y1="639" x2="666.8" y2="639" stroke="#444" stroke-width="1.7" />
<line x1="120.2" y1="667" x2="666.8" y2="667" stroke="#444" stroke-width="1.7" />
<line x1="120.2" y1="695" x2="666.8" y2="695" stroke="#444" stroke-width="1.7" />
<line x1="120.2" y1="723.6" x2="666.8" y2="723.6" stroke="#444" stroke-width="1.7" />
<line x1="120.2" y1="752" x2="666.8" y2="752" stroke="#444" stroke-width="1.7" />
<line x1="120.2" y1="784" x2="666.8" y2="784" stroke="#444" stroke-width="1.7" />
<line x1="121" y1="639" x2="121" y2="784" stroke="#444" stroke-width="1.7" />
<line x1="352.5" y1="639" x2="352.5" y2="784" stroke="#444" stroke-width="1.7" />
<line x1="517" y1="639" x2="517" y2="784" stroke="#444" stroke-width="1.7" />
<line x1="666" y1="639" x2="666" y2="784" stroke="#444" stroke-width="1.7" />
<text x="131" y="659.2" font-size="17" text-anchor="start" fill="#333" stroke="#333" stroke-width="0.5" textLength="147" lengthAdjust="spacingAndGlyphs" >Диаметр фильтра</text>
<text x="424.5" y="658.4000000000001" font-size="17" text-anchor="middle" fill="#333" stroke="#333" stroke-width="0.5" >R½" - R2"</text>
<text x="591.3" y="658.4000000000001" font-size="17" text-anchor="middle" fill="#333" stroke="#333" stroke-width="0.5" >DN 65-100</text>
<text x="131" y="687.2" font-size="17" text-anchor="start" fill="#333" stroke="#333" stroke-width="0.5" >G</text>
<text x="424.5" y="687.2" font-size="17" text-anchor="middle" fill="#333" stroke="#333" stroke-width="0.5" >½"</text>
<text x="594.5" y="687.2" font-size="17" text-anchor="middle" fill="#333" stroke="#333" stroke-width="0.5" >1"</text>
<text x="131" y="715.5" font-size="17" text-anchor="start" fill="#333" stroke="#333" stroke-width="0.5" >H</text>
<text x="347" y="715.5" font-size="17" text-anchor="end" fill="#333" stroke="#333" stroke-width="0.5" textLength="34" lengthAdjust="spacingAndGlyphs" >(мм)</text>
<text x="424.5" y="715.5" font-size="17" text-anchor="middle" fill="#333" stroke="#333" stroke-width="0.5" >150</text>
<text x="594.5" y="715.5" font-size="17" text-anchor="middle" fill="#333" stroke="#333" stroke-width="0.5" >160</text>
<text x="131" y="744.0" font-size="17" text-anchor="start" fill="#333" stroke="#333" stroke-width="0.5" >L</text>
<text x="347" y="744.0" font-size="17" text-anchor="end" fill="#333" stroke="#333" stroke-width="0.5" textLength="34" lengthAdjust="spacingAndGlyphs" >(мм)</text>
<text x="424.5" y="744.0" font-size="17" text-anchor="middle" fill="#333" stroke="#333" stroke-width="0.5" >59</text>
<text x="594.5" y="744.0" font-size="17" text-anchor="middle" fill="#333" stroke="#333" stroke-width="0.5" >81</text>
<text x="131" y="774.2" font-size="17" text-anchor="start" fill="#333" stroke="#333" stroke-width="0.5" textLength="212" lengthAdjust="spacingAndGlyphs" >Приблизительный вес (кг)</text>
<text x="424.5" y="774.2" font-size="17" text-anchor="middle" fill="#333" stroke="#333" stroke-width="0.5" >1,2</text>
<text x="594.5" y="774.2" font-size="17" text-anchor="middle" fill="#333" stroke="#333" stroke-width="0.5" >1,7</text>
</g>
</svg>
</body></html>
